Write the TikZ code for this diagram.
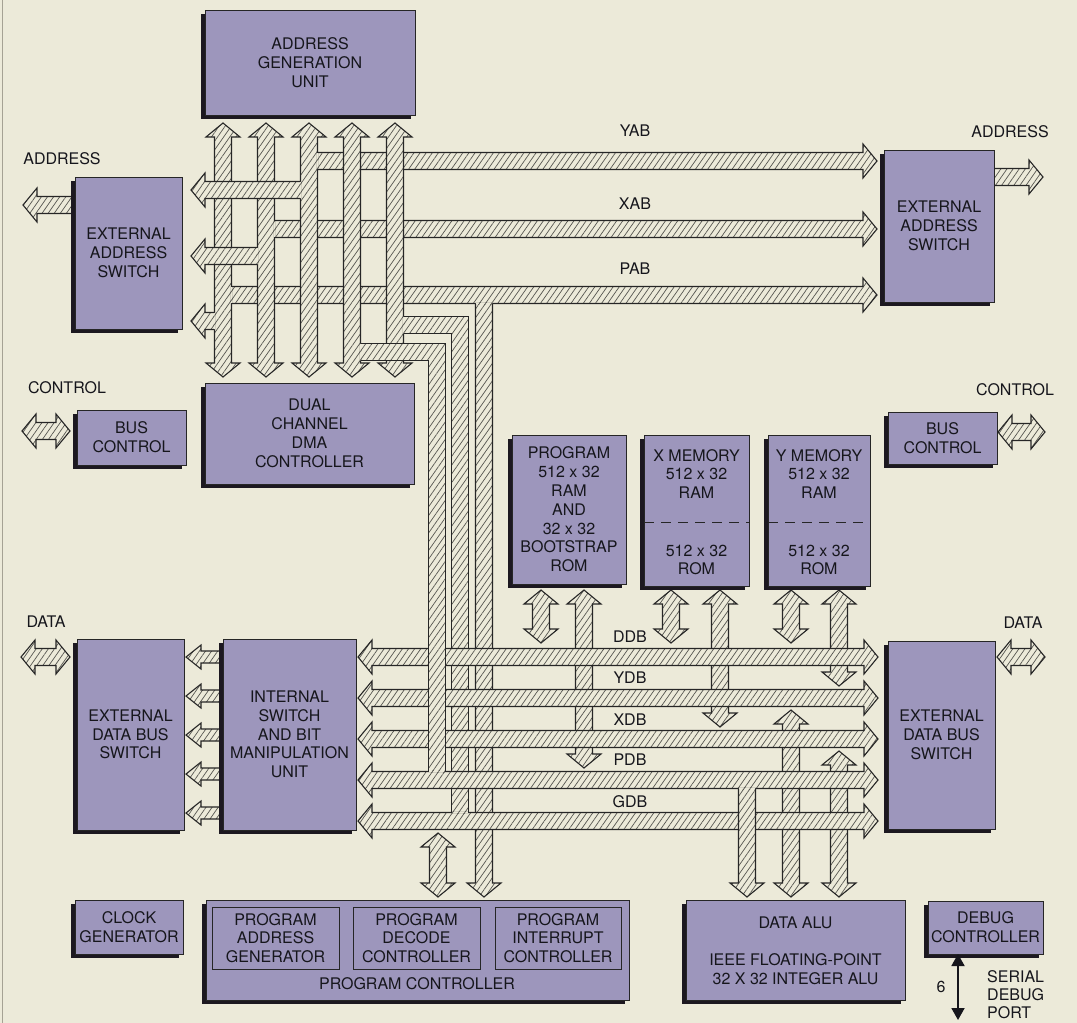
\documentclass[tikz,border=0pt]{standalone}
\usepackage{fontspec}
\setmainfont{TeX Gyre Heros}
\usetikzlibrary{patterns.meta,arrows.meta}
\definecolor{bg}{RGB}{236,234,217}
\definecolor{boxc}{RGB}{157,150,188}
\definecolor{shadowc}{RGB}{28,24,32}
\definecolor{edge}{RGB}{38,38,38}
\definecolor{hatch}{RGB}{85,85,80}
\definecolor{txt}{RGB}{22,22,28}
\definecolor{frame}{RGB}{165,162,148}
\newcommand\bfnt{\fontsize{16}{18.8}\selectfont}
\def\bbw{8.5}\def\bbh{17}\def\bbl{14}
\tikzset{
 busfill/.style={preaction={fill=bg}, pattern={Lines[angle=55,distance=5pt,line width=0.7pt]}, pattern color=hatch},
 busline/.style={draw=edge, line width=1.1pt, line join=miter, line cap=butt},
 bus/.style={busfill, busline},
 blkst/.style={draw=edge, line width=0.8pt, fill=boxc, inner sep=0pt, outer sep=0pt, align=center, font=\bfnt, text=txt},
 subst/.style={draw=edge, line width=0.8pt, inner sep=0pt, outer sep=0pt, align=center, font=\bfnt, text=txt},
 lab/.style={inner sep=0pt, font=\bfnt, text=txt, align=center},
}
% double-headed horizontal: left tip, right tip, y
\newcommand\busHD[3]{\path[bus] ({#1},{#3}) -- ({#1+\bbl},{#3-\bbh}) -- ({#1+\bbl},{#3-\bbw}) -- ({#2-\bbl},{#3-\bbw}) -- ({#2-\bbl},{#3-\bbh}) -- ({#2},{#3}) -- ({#2-\bbl},{#3+\bbh}) -- ({#2-\bbl},{#3+\bbw}) -- ({#1+\bbl},{#3+\bbw}) -- ({#1+\bbl},{#3+\bbh}) -- cycle;}
% right-pointing: open left x, tip x, y
\newcommand\busHR[3]{\path[busfill] ({#1},{#3-\bbw}) -- ({#2-\bbl},{#3-\bbw}) -- ({#2-\bbl},{#3-\bbh}) -- ({#2},{#3}) -- ({#2-\bbl},{#3+\bbh}) -- ({#2-\bbl},{#3+\bbw}) -- ({#1},{#3+\bbw}) -- cycle;
 \draw[busline] ({#1},{#3-\bbw}) -- ({#2-\bbl},{#3-\bbw}) -- ({#2-\bbl},{#3-\bbh}) -- ({#2},{#3}) -- ({#2-\bbl},{#3+\bbh}) -- ({#2-\bbl},{#3+\bbw}) -- ({#1},{#3+\bbw});}
% left-pointing: tip x, open right x, y
\newcommand\busHL[3]{\path[busfill] ({#2},{#3-\bbw}) -- ({#1+\bbl},{#3-\bbw}) -- ({#1+\bbl},{#3-\bbh}) -- ({#1},{#3}) -- ({#1+\bbl},{#3+\bbh}) -- ({#1+\bbl},{#3+\bbw}) -- ({#2},{#3+\bbw}) -- cycle;
 \draw[busline] ({#2},{#3-\bbw}) -- ({#1+\bbl},{#3-\bbw}) -- ({#1+\bbl},{#3-\bbh}) -- ({#1},{#3}) -- ({#1+\bbl},{#3+\bbh}) -- ({#1+\bbl},{#3+\bbw}) -- ({#2},{#3+\bbw});}
% double-headed vertical: x, top tip, bottom tip
\newcommand\busVD[3]{\path[bus] ({#1},{#2}) -- ({#1+\bbh},{#2+\bbl}) -- ({#1+\bbw},{#2+\bbl}) -- ({#1+\bbw},{#3-\bbl}) -- ({#1+\bbh},{#3-\bbl}) -- ({#1},{#3}) -- ({#1-\bbh},{#3-\bbl}) -- ({#1-\bbw},{#3-\bbl}) -- ({#1-\bbw},{#2+\bbl}) -- ({#1-\bbh},{#2+\bbl}) -- cycle;}
% down-pointing: x, open top y, bottom tip
\newcommand\busVDn[3]{\path[busfill] ({#1-\bbw},{#2}) -- ({#1+\bbw},{#2}) -- ({#1+\bbw},{#3-\bbl}) -- ({#1+\bbh},{#3-\bbl}) -- ({#1},{#3}) -- ({#1-\bbh},{#3-\bbl}) -- ({#1-\bbw},{#3-\bbl}) -- cycle;
 \draw[busline] ({#1+\bbw},{#2}) -- ({#1+\bbw},{#3-\bbl}) -- ({#1+\bbh},{#3-\bbl}) -- ({#1},{#3}) -- ({#1-\bbh},{#3-\bbl}) -- ({#1-\bbw},{#3-\bbl}) -- ({#1-\bbw},{#2});}
% L-shaped: open start x, horizontal y, vertical x, open end y
\newcommand\busL[4]{\path[busfill] ({#1},{#2-\bbw}) -- ({#3+\bbw},{#2-\bbw}) -- ({#3+\bbw},{#4}) -- ({#3-\bbw},{#4}) -- ({#3-\bbw},{#2+\bbw}) -- ({#1},{#2+\bbw}) -- cycle;
 \draw[busline] ({#1},{#2-\bbw}) -- ({#3+\bbw},{#2-\bbw}) -- ({#3+\bbw},{#4});
 \draw[busline] ({#1},{#2+\bbw}) -- ({#3-\bbw},{#2+\bbw}) -- ({#3-\bbw},{#4});}
% erase an edge line at a junction
\newcommand\patV[3]{\path[busfill] ({#1-0.9},{#2+0.55}) rectangle ({#1+0.9},{#3-0.55});}
\newcommand\patH[3]{\path[busfill] ({#2+0.55},{#1-0.9}) rectangle ({#3-0.55},{#1+0.9});}
% block with shadow
\newcommand\mkbox[6]{\fill[shadowc] ({#2-4},{#3+4}) rectangle ({#4-4},{#5+4});
 \node[blkst, minimum width={(#4)-(#2)}, minimum height={(#5)-(#3)}] (#1) at ({(#2+#4)/2},{(#3+#5)/2}) {#6};}

\begin{document}
\begin{tikzpicture}[x=1pt,y=-1pt]
\useasboundingbox (0,0) rectangle (1077,1023);
\fill[bg] (0,0) rectangle (1077,1023);
\draw[frame, line width=1pt] (2,0) -- (2,1023);

% external port arrows
\busHL{23}{76}{205}
\busHR{990}{1043}{177}
\busHD{22}{70}{431}
\busHD{998}{1045}{432}
\busHD{21}{70}{657}
\busHD{997}{1045}{657}

% address buses to the right
\busHR{317.5}{877}{161}
\busHR{274.5}{877}{229}
\busHR{231.5}{877}{295}
% PAB branch down to program controller
\busVDn{484}{303.5}{897}
\patH{303.5}{475.5}{492.5}
% vertical buses between AGU and DMA
\busVD{223}{123}{377}
\busVD{266}{123}{377}
\busVD{309}{123}{377}
\busVD{352}{123}{377}
\busVD{395}{123}{377}
% left buses to external address switch
\busHL{191}{300.5}{190}
\busHL{191}{257.5}{256}
\busHL{191}{214.5}{321}
\patV{317.5}{152.5}{169.5}
\patV{274.5}{220.5}{237.5}
\patV{231.5}{286.5}{303.5}
\patV{300.5}{181.5}{198.5}
\patV{257.5}{247.5}{264.5}
\patV{214.5}{312.5}{329.5}
% branch to GDB
\busL{403.5}{325}{460}{812.5}
\patV{403.5}{316.5}{333.5}

% memory and ALU arrows
\busVD{541}{590}{643}
\busVD{584}{590}{768}
\busVD{671}{590}{643}
\busVD{720}{590}{727}
\busVD{791}{590}{643}
\busVD{839}{590}{686}
\busVD{791}{710}{897}
\busVD{839}{751}{897}
\busVD{438}{833}{897}

% data buses
\busHD{358}{878}{657}
\busHD{358}{878}{698}
\busHD{358}{878}{739}
\busHD{358}{878}{780}
\busHD{358}{878}{821}
\patH{812.5}{451.5}{468.5}
% PDB to ALU
\busVDn{747}{788.5}{897}
\patH{788.5}{738.5}{755.5}
% branch to PDB
\busL{360.5}{352}{437}{771.5}
\patV{360.5}{343.5}{360.5}
\patH{771.5}{428.5}{445.5}

% small arrows between ISBMU and external data bus switch
\begin{scope}
\def\bbw{6}\def\bbh{12}\def\bbl{15}
\busHL{186}{226}{657}
\busHL{186}{226}{696}
\busHL{186}{226}{735}
\busHL{186}{226}{774}
\busHL{186}{226}{813}
\end{scope}

% blocks
\mkbox{agu}{205}{10}{415}{115}{ADDRESS\\GENERATION\\UNIT}
\mkbox{easl}{75}{177}{182}{329}{EXTERNAL\\ADDRESS\\SWITCH}
\mkbox{easr}{884}{150}{994}{302}{EXTERNAL\\ADDRESS\\SWITCH}
\mkbox{bcl}{77}{410}{186}{465}{BUS\\CONTROL}
\mkbox{dma}{205}{383}{414}{484}{DUAL\\CHANNEL\\DMA\\CONTROLLER}
\mkbox{bcr}{888}{412}{997}{464}{BUS\\CONTROL}
\mkbox{pmem}{512}{435}{626}{584}{PROGRAM\\512 x 32\\RAM\\AND\\32 x 32\\BOOTSTRAP\\ROM}
\mkbox{xmem}{644}{435}{749}{586}{}
\mkbox{ymem}{768}{435}{870}{586}{}
\mkbox{edsl}{77}{639}{184}{830}{EXTERNAL\\DATA BUS\\SWITCH}
\mkbox{isbmu}{223}{639}{356}{830}{INTERNAL\\SWITCH\\AND BIT\\MANIPULATION\\UNIT}
\mkbox{edsr}{888}{641}{995}{829}{EXTERNAL\\DATA BUS\\SWITCH}
\mkbox{clk}{75}{900}{183}{954}{CLOCK\\GENERATOR}
\mkbox{pc}{206}{900}{629}{1000}{}
\mkbox{alu}{686}{900}{905}{1000}{}
\mkbox{dbg}{928}{901}{1043}{954}{DEBUG\\CONTROLLER}

% memory contents
\draw[edge, line width=0.9pt, dash pattern=on 10pt off 7pt] (644,522) -- (749,522);
\draw[edge, line width=0.9pt, dash pattern=on 10pt off 7pt] (768,522) -- (870,522);
\node[lab] (xmt) at (696.5,474) {X MEMORY\\512 x 32\\RAM};
\node[lab] (xmb) at (696.5,560) {512 x 32\\ROM};
\node[lab] (ymt) at (819,474) {Y MEMORY\\512 x 32\\RAM};
\node[lab] (ymb) at (819,560) {512 x 32\\ROM};

% program controller
\node[subst, minimum width=127, minimum height=62] (pag) at (275.5,938) {PROGRAM\\ADDRESS\\GENERATOR};
\node[subst, minimum width=127, minimum height=62] (pdc) at (416.5,938) {PROGRAM\\DECODE\\CONTROLLER};
\node[subst, minimum width=126, minimum height=62] (pic) at (558,938) {PROGRAM\\INTERRUPT\\CONTROLLER};
\node[lab] (pcl) at (417,984) {PROGRAM CONTROLLER};

% data ALU
\node[lab] (alut) at (795.5,923) {DATA ALU};
\node[lab] (alub) at (795.5,969) {IEEE FLOATING-POINT\\32 X 32 INTEGER ALU};

% labels
\node[lab] (ladl) at (62,159) {ADDRESS};
\node[lab] (ladr) at (1010,132) {ADDRESS};
\node[lab] (lcl) at (67,388) {CONTROL};
\node[lab] (lcr) at (1015,390) {CONTROL};
\node[lab] (ldl) at (46,622) {DATA};
\node[lab] (ldr) at (1023,623) {DATA};
\node[lab] (lyab) at (635,131) {YAB};
\node[lab] (lxab) at (635,204) {XAB};
\node[lab] (lpab) at (635,269) {PAB};
\node[lab] (lddb) at (630,637) {DDB};
\node[lab] (lydb) at (630,678) {YDB};
\node[lab] (lxdb) at (630,720) {XDB};
\node[lab] (lpdb) at (630,760) {PDB};
\node[lab] (lgdb) at (630,802) {GDB};

% serial debug port
\coordinate (sdp) at (958,1020);
\draw[line width=1.8pt, draw=txt, {Triangle[length=12pt,width=13pt]}-{Triangle[length=12pt,width=13pt]}] ([xshift=30pt]dbg.south west) -- (sdp);
\node[lab] (six) at (941,987) {6};
\node[lab, anchor=west, align=left, font=\fontsize{16}{18}\selectfont] (sdpl) at (987,995) {SERIAL\\DEBUG\\PORT};
\end{tikzpicture}
\end{document}
